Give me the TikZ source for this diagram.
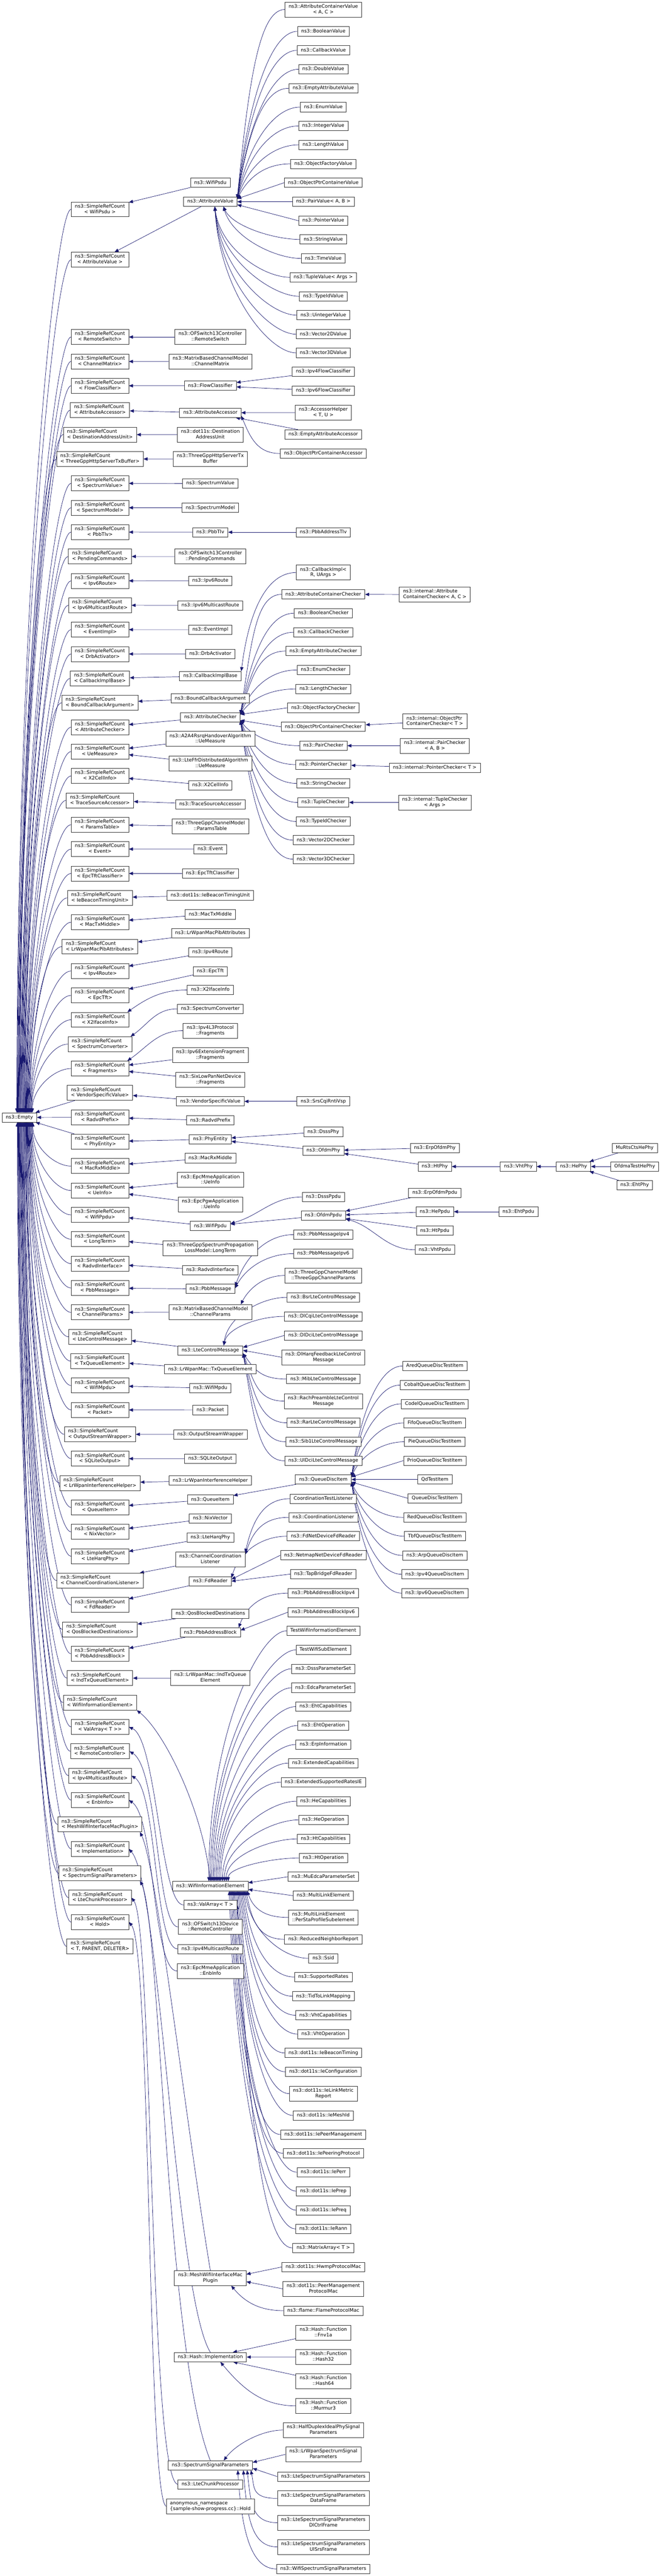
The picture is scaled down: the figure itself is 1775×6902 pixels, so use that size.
\documentclass[tikz,border=0pt]{standalone}
\usepackage{fontspec}
\newfontfamily\dvs{DejaVu Sans}
\usetikzlibrary{arrows.meta,calc,backgrounds}
\definecolor{mblue}{HTML}{191970}
\newcommand\twol[2]{\begin{tabular}{@{}l@{}}#1\\\multicolumn{1}{@{}c@{}}{#2}\end{tabular}}
\newcommand\nA[4]{\node[b1] (#1) at (#2,-#3) {#4};}
\newcommand\nB[5]{\node[b2] (#1) at (#2,-#3) {\twol{#4}{#5}};}
\newcommand\eF[5]{\draw[inh] let \p1=(#1.west), \p2=(#2) in (\p1) .. controls +(-#3pt,0pt) and +(#4pt,{#5*((\y1)-(\y2))}) .. (\p2);}
\def\rclist{RemoteSwitch/RemoteSwitch, ChannelMatrix/ChannelMatrix, FlowClassifier/FlowClassifier, AttributeAccessor/AttributeAccessor, DestinationAddressUnit/DestinationAddressUnit, ThreeGppHttpServerTxBuffer/ThreeGppHttpServerTxBuffer, SpectrumValue/SpectrumValue, SpectrumModel/SpectrumModel, PbbTlv/PbbTlv, PendingCommands/PendingCommands, Ipv6Route/Ipv6Route, Ipv6MulticastRoute/Ipv6MulticastRoute, EventImpl/EventImpl, DrbActivator/DrbActivator, CallbackImplBase/CallbackImplBase, BoundCallbackArgument/BoundCallbackArgument, AttributeChecker/AttributeChecker, UeMeasure/UeMeasure, X2CellInfo/X2CellInfo, TraceSourceAccessor/TraceSourceAccessor, ParamsTable/ParamsTable, Event/Event, EpcTftClassifier/EpcTftClassifier, IeBeaconTimingUnit/IeBeaconTimingUnit, MacTxMiddle/MacTxMiddle, LrWpanMacPibAttributes/LrWpanMacPibAttributes, Ipv4Route/Ipv4Route, EpcTft/EpcTft, X2IfaceInfo/X2IfaceInfo, SpectrumConverter/SpectrumConverter, Fragments/Fragments, VendorSpecificValue/VendorSpecificValue, RadvdPrefix/RadvdPrefix, PhyEntity/PhyEntity, MacRxMiddle/MacRxMiddle, UeInfo/UeInfo, WifiPpdu/WifiPpdu, LongTerm/LongTerm, RadvdInterface/RadvdInterface, PbbMessage/PbbMessage, ChannelParams/ChannelParams, LteControlMessage/LteControlMessage, TxQueueElement/TxQueueElement, WifiMpdu/WifiMpdu, Packet/Packet, OutputStreamWrapper/OutputStreamWrapper, SQLiteOutput/SQLiteOutput, LrWpanInterferenceHelper/LrWpanInterferenceHelper, QueueItem/QueueItem, NixVector/NixVector, LteHarqPhy/LteHarqPhy, ChannelCoordinationListener/ChannelCoordinationListener, FdReader/FdReader, QosBlockedDestinations/QosBlockedDestinations, PbbAddressBlock/PbbAddressBlock, IndTxQueueElement/IndTxQueueElement, WifiInformationElement/WifiInformationElement, ValArray/{ValArray< T >}, RemoteController/RemoteController, Ipv4MulticastRoute/Ipv4MulticastRoute, EnbInfo/EnbInfo, MeshWifiInterfaceMacPlugin/MeshWifiInterfaceMacPlugin, Implementation/Implementation, SpectrumSignalParameters/SpectrumSignalParameters, LteChunkProcessor/LteChunkProcessor, Hold/Hold, TPD/{T, PARENT, DELETER}}
\begin{document}
\begin{tikzpicture}[x=1pt,y=1pt,
 base/.style={draw=black!80, line width=1.1pt, fill=white, font=\dvs\fontsize{12.8}{15}\selectfont, inner xsep=10pt},
 b1/.style={base, minimum height=25pt, inner ysep=0pt, text height=9.6pt, text depth=2.9pt},
 b2/.style={base, minimum height=40pt, inner ysep=1pt},
 inh/.style={draw=mblue, line width=1pt, -{Triangle[length=11pt,width=9pt]}}]
\useasboundingbox (0,0) rectangle (1775,-6902);
% ---------------- root and SimpleRefCount column
\nA{E}{52}{2994}{ns3::Empty}
\nB{rWifiPsdu}{268}{561}{ns3::SimpleRefCount}{< WifiPsdu >}
\nB{rAttributeValue}{268}{696}{ns3::SimpleRefCount}{< AttributeValue >}
\foreach \nm/\lab [count=\k from 0] in \rclist {
  \pgfmathsetmacro\yy{903+65.333*\k}
  \node[b2] (r\nm) at (268,-\yy) {\twol{ns3::SimpleRefCount}{< \lab >}};
}
% ---------------- AttributeValue family
\nB{acv}{867}{25.5}{ns3::AttributeContainerValue}{< A, C >}
\nA{bv}{867}{84}{ns3::BooleanValue}
\nA{cbv}{867}{135}{ns3::CallbackValue}
\nA{dblv}{867}{185.5}{ns3::DoubleValue}
\nA{eav}{867}{236.5}{ns3::EmptyAttributeValue}
\nA{env}{867}{287}{ns3::EnumValue}
\nA{iv}{867}{337.5}{ns3::IntegerValue}
\nA{lv}{867}{388}{ns3::LengthValue}
\nA{ofv}{867}{439}{ns3::ObjectFactoryValue}
\nA{opcv}{867}{489.5}{ns3::ObjectPtrContainerValue}
\nA{pav}{867}{540.5}{ns3::PairValue< A, B >}
\nA{ptv}{867}{591.5}{ns3::PointerValue}
\nA{sv}{867}{641.5}{ns3::StringValue}
\nA{tv}{867}{692.5}{ns3::TimeValue}
\nA{tuv}{867}{743}{ns3::TupleValue< Args >}
\nA{tiv}{867}{794}{ns3::TypeIdValue}
\nA{uiv}{867}{844.5}{ns3::UintegerValue}
\nA{v2v}{867}{895.5}{ns3::Vector2DValue}
\nA{v3v}{867}{945.5}{ns3::Vector3DValue}
\nA{WifiPsdu}{564}{489.5}{ns3::WifiPsdu}
\nA{AV}{564}{540.5}{ns3::AttributeValue}
% ---------------- upper middle
\nB{RemoteSwitch}{564}{903}{ns3::OFSwitch13Controller}{::RemoteSwitch}
\nB{ChannelMatrix}{564}{969}{ns3::MatrixBasedChannelModel}{::ChannelMatrix}
\nA{FC}{564}{1033.5}{ns3::FlowClassifier}
\nA{ipv4fc}{867}{996}{ns3::Ipv4FlowClassifier}
\nA{ipv6fc}{867}{1047}{ns3::Ipv6FlowClassifier}
\nA{AA}{564}{1106}{ns3::AttributeAccessor}
\nB{ah}{867}{1105.5}{ns3::AccessorHelper}{< T, U >}
\nA{eaa}{867}{1164}{ns3::EmptyAttributeAccessor}
\nA{opca}{867}{1215}{ns3::ObjectPtrContainerAccessor}
\nB{DAU}{564}{1165}{ns3::dot11s::Destination}{AddressUnit}
\nB{TGHSTB}{564}{1230}{ns3::ThreeGppHttpServerTx}{Buffer}
\nA{SpV}{564}{1295.5}{ns3::SpectrumValue}
\nA{SpM}{564}{1360.5}{ns3::SpectrumModel}
\nA{PbbTlv}{564}{1426}{ns3::PbbTlv}
\nA{pbbat}{867}{1426}{ns3::PbbAddressTlv}
\nB{PendCmd}{564}{1491}{ns3::OFSwitch13Controller}{::PendingCommands}
\nB{cbimpl}{867}{1534}{ns3::CallbackImpl<}{R, UArgs >}
\nA{Ipv6Route}{564}{1556}{ns3::Ipv6Route}
\nA{acc}{867}{1592.5}{ns3::AttributeContainerChecker}
\nB{iacc}{1166}{1593}{ns3::internal::Attribute}{ContainerChecker< A, C >}
\nA{Ipv6MR}{564}{1622}{ns3::Ipv6MulticastRoute}
\nA{boc}{867}{1643}{ns3::BooleanChecker}
\nA{EventImpl}{564}{1687}{ns3::EventImpl}
\nA{cbc}{867}{1694}{ns3::CallbackChecker}
\nA{eac}{867}{1744.5}{ns3::EmptyAttributeChecker}
\nA{DrbActivator}{564}{1752}{ns3::DrbActivator}
\nA{enc}{867}{1795}{ns3::EnumChecker}
\nA{CIB}{564}{1811.5}{ns3::CallbackImplBase}
\nA{lc}{867}{1846}{ns3::LengthChecker}
\nA{BCA}{564}{1871.5}{ns3::BoundCallbackArgument}
\nA{ofc}{867}{1896.5}{ns3::ObjectFactoryChecker}
\nA{AC}{564}{1922}{ns3::AttributeChecker}
\nB{iopcc}{1166}{1933}{ns3::internal::ObjectPtr}{ContainerChecker< T >}
\nA{opcc}{867}{1947.5}{ns3::ObjectPtrContainerChecker}
\nB{UeMeasA}{564}{1980}{ns3::A2A4RsrqHandoverAlgorithm}{::UeMeasure}
\nA{pac}{867}{1998}{ns3::PairChecker}
\nB{ipac}{1166}{1998}{ns3::internal::PairChecker}{< A, B >}
\nB{UeMeasB}{564}{2046}{ns3::LteFfrDistributedAlgorithm}{::UeMeasure}
\nA{ptc}{867}{2048.5}{ns3::PointerChecker}
\nA{iptc}{1166}{2057}{ns3::internal::PointerChecker< T >}
\nA{X2CellInfo}{564}{2104}{ns3::X2CellInfo}
\nA{stc}{867}{2099}{ns3::StringChecker}
\nA{TSA}{564}{2155}{ns3::TraceSourceAccessor}
\nA{tuc}{867}{2150}{ns3::TupleChecker}
\nB{ituc}{1166}{2150}{ns3::internal::TupleChecker}{< Args >}
\nB{ParamsTable}{564}{2214}{ns3::ThreeGppChannelModel}{::ParamsTable}
\nA{tic}{867}{2201}{ns3::TypeIdChecker}
\nA{v2c}{867}{2251}{ns3::Vector2DChecker}
\nA{Event}{564}{2275}{ns3::Event}
\nA{v3c}{867}{2302}{ns3::Vector3DChecker}
\nA{EpcTftCl}{564}{2340.5}{ns3::EpcTftClassifier}
\nA{IeBTU}{564}{2399}{ns3::dot11s::IeBeaconTimingUnit}
\nA{MacTxMiddle}{564}{2450}{ns3::MacTxMiddle}
\nA{LrPib}{564}{2500}{ns3::LrWpanMacPibAttributes}
\nA{Ipv4Route}{564}{2551}{ns3::Ipv4Route}
\nA{EpcTft}{564}{2602}{ns3::EpcTft}
\nA{X2IfaceInfo}{564}{2652.5}{ns3::X2IfaceInfo}
\nA{SpConv}{564}{2703}{ns3::SpectrumConverter}
\nB{FragA}{564}{2761.5}{ns3::Ipv4L3Protocol}{::Fragments}
\nB{FragB}{564}{2827}{ns3::Ipv6ExtensionFragment}{::Fragments}
\nB{FragC}{564}{2892.5}{ns3::SixLowPanNetDevice}{::Fragments}
\nA{VSV}{564}{2951}{ns3::VendorSpecificValue}
\nA{srs}{867}{2951}{ns3::SrsCqiRntiVsp}
\nA{RadvdPrefix}{564}{3002}{ns3::RadvdPrefix}
% ---------------- wifi phy / ppdu
\nA{dsssphy}{867}{3032.5}{ns3::DsssPhy}
\nA{PE}{564}{3052.5}{ns3::PhyEntity}
\nA{erpphy}{1166}{3075.5}{ns3::ErpOfdmPhy}
\nA{ofdmphy}{867}{3083}{ns3::OfdmPhy}
\nA{MacRxMiddle}{564}{3103}{ns3::MacRxMiddle}
\nA{htphy}{1166}{3125.5}{ns3::HtPhy}
\nA{vhtphy}{1390}{3125.5}{ns3::VhtPhy}
\nA{hephy}{1538}{3125.5}{ns3::HePhy}
\nA{murts}{1702}{3075.5}{MuRtsCtsHePhy}
\nA{ofdmat}{1702}{3125.5}{OfdmaTestHePhy}
\nA{ehtphy}{1702}{3175.5}{ns3::EhtPhy}
\nB{UeInfoA}{564}{3161.5}{ns3::EpcMmeApplication}{::UeInfo}
\nA{erpppdu}{1166}{3196}{ns3::ErpOfdmPpdu}
\nA{dsssppdu}{867}{3207}{ns3::DsssPpdu}
\nB{UeInfoB}{564}{3227}{ns3::EpcPgwApplication}{::UeInfo}
\nA{heppdu}{1166}{3246.5}{ns3::HePpdu}
\nA{ehtppdu}{1390}{3246.5}{ns3::EhtPpdu}
\nA{ofdmppdu}{867}{3257}{ns3::OfdmPpdu}
\nA{WifiPpdu}{564}{3285}{ns3::WifiPpdu}
\nA{htppdu}{1166}{3297.5}{ns3::HtPpdu}
\nA{pbbm4}{867}{3308}{ns3::PbbMessageIpv4}
\nB{LongTerm}{564}{3345}{ns3::ThreeGppSpectrumPropagation}{LossModel::LongTerm}
\nA{vhtppdu}{1166}{3348.5}{ns3::VhtPpdu}
\nA{pbbm6}{867}{3359}{ns3::PbbMessageIpv6}
\nA{RadvdIf}{564}{3403}{ns3::RadvdInterface}
\nB{tgcp}{867}{3417.5}{ns3::ThreeGppChannelModel}{::ThreeGppChannelParams}
% ---------------- lte control / queue
\nA{PbbMessage}{564}{3453.5}{ns3::PbbMessage}
\nA{bsr}{867}{3476}{ns3::BsrLteControlMessage}
\nB{ChParams}{564}{3515.5}{ns3::MatrixBasedChannelModel}{::ChannelParams}
\nA{dlcqi}{867}{3527}{ns3::DlCqiLteControlMessage}
\nA{dldci}{867}{3578}{ns3::DlDciLteControlMessage}
\nA{LCM}{564}{3618}{ns3::LteControlMessage}
\nB{dlharq}{867}{3636.5}{ns3::DlHarqFeedbackLteControl}{Message}
\nA{TxQE}{564}{3668.5}{ns3::LrWpanMac::TxQueueElement}
\nA{mib}{867}{3695}{ns3::MibLteControlMessage}
\nA{WifiMpdu}{564}{3719.5}{ns3::WifiMpdu}
\nB{rach}{867}{3754}{ns3::RachPreambleLteControl}{Message}
\nA{Packet}{564}{3778}{ns3::Packet}
\nA{rar}{867}{3812}{ns3::RarLteControlMessage}
\nA{OSW}{564}{3843}{ns3::OutputStreamWrapper}
\nA{sib1}{867}{3863}{ns3::Sib1LteControlMessage}
\nA{SQLite}{564}{3908}{ns3::SQLiteOutput}
\nA{uldci}{867}{3914}{ns3::UlDciLteControlMessage}
\nA{QDI}{867}{3964}{ns3::QueueDiscItem}
\nA{LrIH}{564}{3967}{ns3::LrWpanInterferenceHelper}
\nA{ctl}{867}{4015.5}{CoordinationTestListener}
\nA{QueueItem}{564}{4018}{ns3::QueueItem}
\nA{cl}{867}{4065.5}{ns3::CoordinationListener}
\nA{NixVector}{564}{4068.5}{ns3::NixVector}
\nA{fdnd}{867}{4116}{ns3::FdNetDeviceFdReader}
\nA{LteHarqPhy}{564}{4119.5}{ns3::LteHarqPhy}
\nA{qa}{1166}{3660}{AredQueueDiscTestItem}
\nA{qb}{1166}{3711}{CobaltQueueDiscTestItem}
\nA{qc}{1166}{3761.5}{CodelQueueDiscTestItem}
\nA{qd}{1166}{3812.5}{FifoQueueDiscTestItem}
\nA{qe}{1166}{3863}{PieQueueDiscTestItem}
\nA{qf}{1166}{3913.5}{PrioQueueDiscTestItem}
\nA{qg}{1166}{3964}{QdTestItem}
\nA{qh}{1166}{4014.5}{QueueDiscTestItem}
\nA{qi}{1166}{4065.5}{RedQueueDiscTestItem}
\nA{qj}{1166}{4116}{TbfQueueDiscTestItem}
\nA{qk}{1166}{4167.5}{ns3::ArpQueueDiscItem}
\nA{ql}{1166}{4218}{ns3::Ipv4QueueDiscItem}
\nA{qm}{1166}{4268.5}{ns3::Ipv6QueueDiscItem}
% ---------------- fd reader / pbb / wifi IE
\nB{CCL}{564}{4178}{ns3::ChannelCoordination}{Listener}
\nA{netmap}{867}{4167}{ns3::NetmapNetDeviceFdReader}
\nA{tapbr}{867}{4217.5}{ns3::TapBridgeFdReader}
\nA{FdReader}{564}{4236.5}{ns3::FdReader}
\nA{pab4}{867}{4268.5}{ns3::PbbAddressBlockIpv4}
\nA{QosBD}{564}{4324}{ns3::QosBlockedDestinations}
\nA{pab6}{867}{4319.5}{ns3::PbbAddressBlockIpv6}
\nA{PAB}{564}{4374}{ns3::PbbAddressBlock}
\nA{twie}{867}{4369.5}{TestWifiInformationElement}
\nA{twse}{867}{4420.5}{TestWifiSubElement}
\nA{dsssps}{867}{4471}{ns3::DsssParameterSet}
\nB{IndTxQE}{564}{4496}{ns3::LrWpanMac::IndTxQueue}{Element}
\nA{edca}{867}{4522}{ns3::EdcaParameterSet}
\nA{ehtcap}{867}{4572.5}{ns3::EhtCapabilities}
\nA{ehtop}{867}{4623}{ns3::EhtOperation}
\nA{erpinfo}{867}{4674}{ns3::ErpInformation}
\nA{extcap}{867}{4724}{ns3::ExtendedCapabilities}
\nA{extsr}{867}{4775}{ns3::ExtendedSupportedRatesIE}
\nA{hecap}{867}{4826}{ns3::HeCapabilities}
\nA{heop}{867}{4876}{ns3::HeOperation}
\nA{htcap}{867}{4927}{ns3::HtCapabilities}
\nA{htop}{867}{4978}{ns3::HtOperation}
\nA{muedca}{867}{5028.5}{ns3::MuEdcaParameterSet}
\nA{WIE}{564}{5053.5}{ns3::WifiInformationElement}
\nA{mle}{867}{5079}{ns3::MultiLinkElement}
\nA{ValArray}{564}{5104}{ns3::ValArray< T >}
\nB{psps}{867}{5137.5}{ns3::MultiLinkElement}{::PerStaProfileSubelement}
\nB{RemCtrl}{564}{5163}{ns3::OFSwitch13Device}{::RemoteController}
\nA{rnr}{867}{5196}{ns3::ReducedNeighborReport}
\nA{Ipv4MR}{564}{5222}{ns3::Ipv4MulticastRoute}
\nA{ssid}{867}{5247}{ns3::Ssid}
\nB{EnbInfo}{564}{5281}{ns3::EpcMmeApplication}{::EnbInfo}
\nA{suprates}{867}{5297}{ns3::SupportedRates}
\nA{tidl}{867}{5348.5}{ns3::TidToLinkMapping}
\nA{vhtcap}{867}{5399.5}{ns3::VhtCapabilities}
\nA{vhtop}{867}{5450}{ns3::VhtOperation}
\nA{iebt}{867}{5500.5}{ns3::dot11s::IeBeaconTiming}
\nA{iecfg}{867}{5551}{ns3::dot11s::IeConfiguration}
\nB{ielmr}{867}{5609.5}{ns3::dot11s::IeLinkMetric}{Report}
\nA{iemid}{867}{5668}{ns3::dot11s::IeMeshId}
\nA{iepm}{867}{5719}{ns3::dot11s::IePeerManagement}
\nA{iepp}{867}{5769.5}{ns3::dot11s::IePeeringProtocol}
\nA{ieperr}{867}{5820}{ns3::dot11s::IePerr}
\nA{ieprep}{867}{5871}{ns3::dot11s::IePrep}
\nA{iepreq}{867}{5922}{ns3::dot11s::IePreq}
\nA{ierann}{867}{5972}{ns3::dot11s::IeRann}
\nA{matarr}{867}{6023}{ns3::MatrixArray< T >}
\nA{hwmp}{867}{6074}{ns3::dot11s::HwmpProtocolMac}
\nB{MWIMP}{564}{6103.5}{ns3::MeshWifiInterfaceMac}{Plugin}
\nB{pmpm}{867}{6132.5}{ns3::dot11s::PeerManagement}{ProtocolMac}
\nA{flame}{867}{6191}{ns3::flame::FlameProtocolMac}
\nB{fnv}{867}{6250}{ns3::Hash::Function}{::Fnv1a}
\nA{HashImpl}{564}{6315.5}{ns3::Hash::Implementation}
\nB{h32}{867}{6315}{ns3::Hash::Function}{::Hash32}
\nB{h64}{867}{6380}{ns3::Hash::Function}{::Hash64}
\nB{mm3}{867}{6446}{ns3::Hash::Function}{::Murmur3}
\nB{hdip}{867}{6511}{ns3::HalfDuplexIdealPhySignal}{Parameters}
\nB{lrssp}{867}{6576}{ns3::LrWpanSpectrumSignal}{Parameters}
\nA{SSP}{564}{6605.5}{ns3::SpectrumSignalParameters}
\nA{ltessp}{867}{6635.5}{ns3::LteSpectrumSignalParameters}
\nA{LCP}{564}{6656.5}{ns3::LteChunkProcessor}
\nB{ltedf}{867}{6694}{ns3::LteSpectrumSignalParameters}{DataFrame}
\nB{Hold}{564}{6715}{anonymous\_namespace}{\{sample-show-progress.cc\}::Hold}
\nB{ltedl}{867}{6759}{ns3::LteSpectrumSignalParameters}{DlCtrlFrame}
\nB{lteul}{867}{6824}{ns3::LteSpectrumSignalParameters}{UlSrsFrame}
\nA{wifissp}{867}{6883}{ns3::WifiSpectrumSignalParameters}
% ================= connectors
\begin{pgfonlayer}{background}
\fill[white] (0,0) rectangle (1775,-6902);
% --- fan into ns3::Empty
\draw[inh] let \p1=(rWifiPsdu.west) in (\p1) .. controls +(-45pt,0pt) and +(0pt,{0.55*((\y1)+2981pt)}) .. (45pt,-2981pt);
\draw[inh] let \p1=(rAttributeValue.west) in (\p1) .. controls +(-45pt,0pt) and +(0pt,{0.55*((\y1)+2981pt)}) .. (46.3pt,-2981pt);
\foreach \nm/\lab [count=\k from 0] in \rclist {
  \ifnum\k<31
    \pgfmathsetmacro\lx{47.6+1.3*\k}
    \draw[inh] let \p1=(r\nm.west) in (\p1) .. controls +(-45pt,0pt) and +(0pt,{0.55*((\y1)+2981pt)}) .. (\lx pt,-2981pt);
  \fi
  \ifnum\k>33
    \pgfmathsetmacro\lx{88-1.3*(\k-34)}
    \draw[inh] let \p1=(r\nm.west) in (\p1) .. controls +(-45pt,0pt) and +(0pt,{0.55*((\y1)+3007pt)}) .. (\lx pt,-3007pt);
  \fi
}
\draw[inh] (rVendorSpecificValue) -- (E);
\draw[inh] (rRadvdPrefix) -- (E);
\draw[inh] (rPhyEntity) -- (E);
% --- AttributeValue
\draw[inh] (WifiPsdu) -- (rWifiPsdu);
\draw[inh] (AV) -- (rAttributeValue);
\coordinate (AVu) at ($(AV.east)+(0,8)$);
\coordinate (AVd) at ($(AV.east)+(0,-8)$);
\coordinate (AVb) at ($(AV.south)+(35,0)$);
\coordinate (AVc) at ($(AV.south)+(12,0)$);
\foreach \cc in {acv,bv,cbv,dblv,eav,env,iv,lv,ofv}{\eF{\cc}{AVu}{70}{30}{0.6}}
\draw[inh] (opcv.west) -- (AVu);
\draw[inh] (pav.west) -- (AV.east);
\draw[inh] (ptv.west) -- (AVd);
\foreach \cc in {sv,tv}{\eF{\cc}{AVb}{70}{25}{0.6}}
\foreach \cc in {tuv,tiv,uiv,v2v,v3v}{\eF{\cc}{AVc}{70}{15}{0.6}}
% --- upper middle
\draw[inh] (RemoteSwitch) -- (rRemoteSwitch);
\draw[inh] (ChannelMatrix) -- (rChannelMatrix);
\draw[inh] (FC) -- (rFlowClassifier);
\draw[inh] (ipv4fc) -- (FC);
\draw[inh] (ipv6fc) -- (FC);
\draw[inh] (AA) -- (rAttributeAccessor);
\draw[inh] (ah) -- (AA);
\draw[inh] (eaa) -- (AA);
\coordinate (AAd) at ($(AA.east)+(0,-8)$);
\eF{opca}{AAd}{60}{25}{0.6}
\draw[inh] (DAU) -- (rDestinationAddressUnit);
\draw[inh] (TGHSTB) -- (rThreeGppHttpServerTxBuffer);
\draw[inh] (SpV) -- (rSpectrumValue);
\draw[inh] (SpM) -- (rSpectrumModel);
\draw[inh] (PbbTlv) -- (rPbbTlv);
\draw[inh] (pbbat) -- (PbbTlv);
\draw[inh] (PendCmd) -- (rPendingCommands);
\draw[inh] (Ipv6Route) -- (rIpv6Route);
\draw[inh] (Ipv6MR) -- (rIpv6MulticastRoute);
\draw[inh] (EventImpl) -- (rEventImpl);
\draw[inh] (DrbActivator) -- (rDrbActivator);
\draw[inh] (CIB) -- (rCallbackImplBase);
\eF{cbimpl}{CIB.north east}{80}{20}{0.6}
\draw[inh] (BCA) -- (rBoundCallbackArgument);
\draw[inh] (AC) -- (rAttributeChecker);
\coordinate (ACu) at ($(AC.east)+(0,8)$);
\coordinate (ACd) at ($(AC.east)+(0,-8)$);
\foreach \cc in {acc,boc,cbc,eac,enc,lc}{\eF{\cc}{ACu}{70}{30}{0.6}}
\draw[inh] (ofc.west) -- (ACu);
\draw[inh] (opcc.west) -- (ACd);
\foreach \cc in {pac,ptc,stc,tuc,tic,v2c,v3c}{\eF{\cc}{ACd}{70}{30}{0.6}}
\draw[inh] (iacc) -- (acc);
\draw[inh] (iopcc) -- (opcc);
\draw[inh] (ipac) -- (pac);
\draw[inh] (iptc) -- (ptc);
\draw[inh] (ituc) -- (tuc);
\draw[inh] (UeMeasA) -- (rUeMeasure);
\draw[inh] (UeMeasB) -- (rUeMeasure);
\draw[inh] (X2CellInfo) -- (rX2CellInfo);
\draw[inh] (TSA) -- (rTraceSourceAccessor);
\draw[inh] (ParamsTable) -- (rParamsTable);
\draw[inh] (Event) -- (rEvent);
\draw[inh] (EpcTftCl) -- (rEpcTftClassifier);
\draw[inh] (IeBTU) -- (rIeBeaconTimingUnit);
\draw[inh] (MacTxMiddle) -- (rMacTxMiddle);
\draw[inh] (LrPib) -- (rLrWpanMacPibAttributes);
\draw[inh] (Ipv4Route) -- (rIpv4Route);
\draw[inh] (EpcTft) -- (rEpcTft);
\draw[inh] (X2IfaceInfo.west) to[out=180,in=35] ($(rX2IfaceInfo.north east)+(-4,0)$);
\draw[inh] (SpConv.west) to[out=180,in=35] ($(rSpectrumConverter.north east)+(-4,0)$);
\draw[inh] (FragA.west) to[out=180,in=35] ($(rFragments.north east)+(-4,0)$);
\draw[inh] (FragB) -- (rFragments);
\draw[inh] (FragC) -- (rFragments);
\draw[inh] (VSV) -- (rVendorSpecificValue);
\draw[inh] (srs) -- (VSV);
\draw[inh] (RadvdPrefix) -- (rRadvdPrefix);
% --- phy / ppdu
\draw[inh] (PE) -- (rPhyEntity);
\draw[inh] (dsssphy) -- (PE);
\draw[inh] (ofdmphy) -- (PE);
\draw[inh] (erpphy) -- (ofdmphy);
\draw[inh] (htphy) -- (ofdmphy);
\draw[inh] (vhtphy) -- (htphy);
\draw[inh] (hephy) -- (vhtphy);
\draw[inh] (murts) -- (hephy);
\draw[inh] (ofdmat) -- (hephy);
\draw[inh] (ehtphy) -- (hephy);
\draw[inh] (MacRxMiddle) -- (rMacRxMiddle);
\draw[inh] (UeInfoA) -- (rUeInfo);
\draw[inh] (UeInfoB) -- (rUeInfo);
\draw[inh] (WifiPpdu) -- (rWifiPpdu);
\draw[inh] (dsssppdu.west) to[out=180,in=15] ($(WifiPpdu.east)+(0,7)$);
\draw[inh] (ofdmppdu) -- (WifiPpdu);
\draw[inh] (erpppdu) -- (ofdmppdu);
\draw[inh] (heppdu) -- (ofdmppdu);
\draw[inh] (htppdu) -- (ofdmppdu);
\draw[inh] (vhtppdu.west) to[out=180,in=-15] ($(ofdmppdu.east)+(0,-9)$);
\draw[inh] (ehtppdu) -- (heppdu);
\draw[inh] (LongTerm) -- (rLongTerm);
\draw[inh] (RadvdIf) -- (rRadvdInterface);
\draw[inh] (PbbMessage) -- (rPbbMessage);
\coordinate (PMa) at ($(PbbMessage.east)+(0,7)$);
\coordinate (PMb) at ($(PbbMessage.east)+(0,2)$);
\eF{pbbm4}{PMa}{70}{30}{0.6}
\eF{pbbm6}{PMb}{70}{30}{0.6}
\draw[inh] (ChParams) -- (rChannelParams);
\coordinate (CPt) at ($(ChParams.north east)+(-30,0)$);
\eF{tgcp}{CPt}{60}{20}{0.5}
% --- lte control messages
\draw[inh] (LCM) -- (rLteControlMessage);
\coordinate (LCMt) at ($(LCM.north)+(36,0)$);
\coordinate (LCMu) at ($(LCM.east)+(0,8)$);
\coordinate (LCMd) at ($(LCM.east)+(0,-8)$);
\eF{bsr}{LCMt}{70}{10}{0.6}
\eF{dlcqi}{LCMt}{70}{10}{0.6}
\draw[inh] (dldci.west) -- (LCMu);
\draw[inh] (dlharq.west) -- (LCM.east);
\foreach \cc in {mib,rach,rar,sib1,uldci}{\eF{\cc}{LCMd}{70}{30}{0.6}}
\draw[inh] (TxQE) -- (rTxQueueElement);
\draw[inh] (WifiMpdu) -- (rWifiMpdu);
\draw[inh] (Packet) -- (rPacket);
\draw[inh] (OSW) -- (rOutputStreamWrapper);
\draw[inh] (SQLite) -- (rSQLiteOutput);
\draw[inh] (LrIH) -- (rLrWpanInterferenceHelper);
\draw[inh] (QueueItem) -- (rQueueItem);
\draw[inh] (QDI) -- (QueueItem);
\coordinate (QDIu) at ($(QDI.east)+(0,7)$);
\coordinate (QDId) at ($(QDI.east)+(0,-7)$);
\foreach \cc in {qa,qb,qc,qd,qe}{\eF{\cc}{QDIu}{60}{25}{0.6}}
\draw[inh] (qf.west) -- (QDIu);
\draw[inh] (qg.west) -- (QDI.east);
\draw[inh] (qh.west) -- (QDId);
\foreach \cc in {qi,qj,qk,ql,qm}{\eF{\cc}{QDId}{60}{25}{0.6}}
\draw[inh] (NixVector) -- (rNixVector);
\draw[inh] (LteHarqPhy) -- (rLteHarqPhy);
\draw[inh] (CCL) -- (rChannelCoordinationListener);
\coordinate (CCLa) at ($(CCL.north east)+(0,-3)$);
\coordinate (CCLb) at ($(CCL.north east)+(0,-8)$);
\eF{ctl}{CCLa}{70}{20}{0.6}
\eF{cl}{CCLb}{70}{20}{0.6}
\draw[inh] (FdReader) -- (rFdReader);
\coordinate (FRa) at ($(FdReader.east)+(0,9)$);
\coordinate (FRb) at ($(FdReader.east)+(0,5)$);
\eF{fdnd}{FRa}{70}{20}{0.6}
\draw[inh] (netmap.west) -- (FRb);
\draw[inh] (tapbr.west) -- (FdReader.east);
\draw[inh] (QosBD) -- (rQosBlockedDestinations);
\draw[inh] (PAB) -- (rPbbAddressBlock);
\coordinate (PABa) at ($(PAB.north east)+(-5,0)$);
\eF{pab4}{PABa}{70}{20}{0.6}
\draw[inh] (pab6.west) -- ($(PAB.east)+(0,6)$);
\draw[inh] (IndTxQE) -- (rIndTxQueueElement);
% --- wifi information elements
\draw[inh] (WIE.north) .. controls (545,-4850) and (440,-4640) .. (rWifiInformationElement.south east);
\foreach \cc/\dx in {twie/-4, twse/0, dsssps/4, edca/8, ehtcap/12, ehtop/16, erpinfo/20, extcap/24, extsr/28, hecap/33, heop/38, htcap/43, htop/48}{
  \draw[inh] let \p1=(\cc.west), \p2=($(WIE.north)+(\dx,0)$) in (\p1) .. controls +(-70pt,0pt) and +(0pt,{0.6*((\y1)-(\y2))}) .. (\p2);
}
\draw[inh] (muedca.west) -- ($(WIE.east)+(0,9)$);
\draw[inh] (mle.west) -- ($(WIE.east)+(0,-9)$);
\foreach \cc/\dx in {psps/3, rnr/6, ssid/9, suprates/12, tidl/15, vhtcap/18, vhtop/21, iebt/24, iecfg/27, ielmr/30, iemid/33, iepm/36, iepp/39, ieperr/42, ieprep/45, iepreq/48, ierann/51}{
  \draw[inh] let \p1=(\cc.west), \p2=($(WIE.south east)+(-\dx,0)$) in (\p1) .. controls +(-70pt,0pt) and +(15pt,{0.6*((\y1)-(\y2))}) .. (\p2);
}
\draw[inh] (ValArray.west) .. controls (430,-5104) and (420,-4660) .. (rValArray.east);
\eF{matarr}{ValArray.east}{80}{30}{0.6}
\draw[inh] (RemCtrl.west) .. controls (420,-5163) and (425,-4740) .. (rRemoteController.east);
\draw[inh] (Ipv4MR.west) .. controls (415,-5222) and (420,-4800) .. (rIpv4MulticastRoute.east);
\draw[inh] (EnbInfo.west) .. controls (410,-5281) and (415,-4870) .. (rEnbInfo.east);
% --- mesh plugin, hash, spectrum
\draw[inh] (MWIMP.north) .. controls (500,-5700) and (420,-5000) .. ($(rMeshWifiInterfaceMacPlugin.south east)+(-6,0)$);
\draw[inh] (hwmp.west) -- ($(MWIMP.east)+(0,10)$);
\draw[inh] (pmpm.west) -- ($(MWIMP.east)+(0,-10)$);
\draw[inh] (flame.west) to[out=180,in=-50] ($(MWIMP.south)+(56,0)$);
\draw[inh] (HashImpl.north) .. controls (470,-6150) and (430,-5050) .. (rImplementation.east);
\draw[inh] (fnv) -- (HashImpl);
\draw[inh] (h32) -- (HashImpl);
\draw[inh] (h64) -- (HashImpl);
\draw[inh] (mm3.west) to[out=180,in=-50] ($(HashImpl.south)+(27,0)$);
\draw[inh] (SSP.north) .. controls (445,-6300) and (430,-5150) .. ($(rSpectrumSignalParameters.south east)+(-3,0)$);
\coordinate (SSPt) at ($(SSP.north)+(36,0)$);
\eF{hdip}{SSPt}{60}{30}{0.5}
\draw[inh] (lrssp.west) -- ($(SSP.east)+(0,8)$);
\draw[inh] (ltessp.west) -- ($(SSP.east)+(0,-8)$);
\foreach \cc/\dx in {ltedf/5, ltedl/15, lteul/25, wifissp/40}{
  \draw[inh] let \p1=(\cc.west), \p2=($(SSP.south east)+(-\dx,0)$) in (\p1) .. controls +(-70pt,0pt) and +(10pt,{0.6*((\y1)-(\y2))}) .. (\p2);
}
\draw[inh] (LCP.west) .. controls (400,-6640) and (410,-5160) .. (rLteChunkProcessor.east);
\draw[inh] (Hold.west) .. controls (395,-6690) and (405,-5220) .. (rHold.east);
\end{pgfonlayer}
\end{tikzpicture}
\end{document}
